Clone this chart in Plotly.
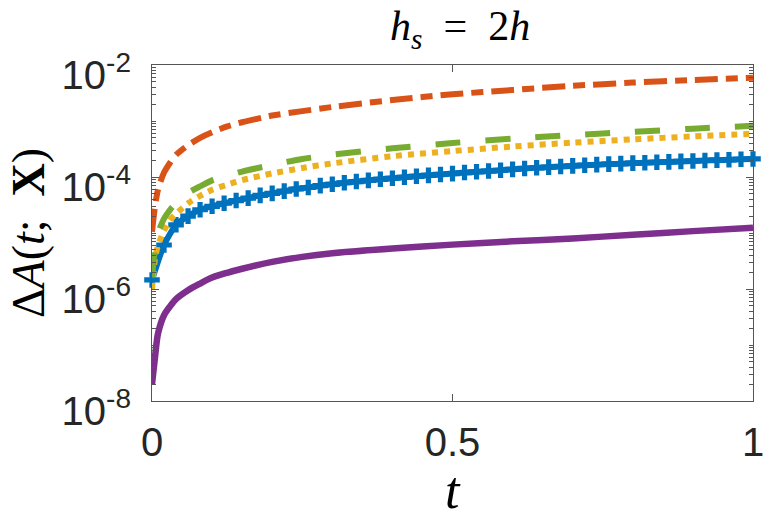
import plotly.graph_objects as go

# ---- data ----
t = [0, 0.005, 0.01, 0.02, 0.03, 0.04, 0.06, 0.08, 0.1, 0.125, 0.15, 0.2, 0.25,
     0.3, 0.4, 0.5, 0.6, 0.7, 0.8, 0.9, 1.0]

orange = [1.05e-5, 3.0e-5, 6.0e-5, 1.2e-4, 1.8e-4, 2.5e-4, 3.7e-4, 5.0e-4, 6.3e-4,
          8.0e-4, 9.5e-4, 1.25e-3, 1.5e-3, 1.78e-3, 2.37e-3, 3.0e-3, 3.58e-3,
          4.25e-3, 4.85e-3, 5.4e-3, 5.9e-3]

green = [1.6e-6, 5.5e-6, 1.0e-5, 1.8e-5, 2.6e-5, 3.4e-5, 5.2e-5, 6.8e-5, 8.7e-5,
         1.05e-4, 1.25e-4, 1.65e-4, 2.1e-4, 2.5e-4, 3.25e-4, 4.05e-4, 4.85e-4,
         5.6e-4, 6.4e-4, 7.3e-4, 8.2e-4]

yellow = [1.0e-6, 3.5e-6, 6.0e-6, 1.1e-5, 1.7e-5, 2.2e-5, 3.4e-5, 4.6e-5, 5.9e-5,
          7.3e-5, 8.8e-5, 1.16e-4, 1.45e-4, 1.75e-4, 2.35e-4, 2.9e-4, 3.5e-4,
          4.1e-4, 4.7e-4, 5.3e-4, 5.9e-4]

purple = [2.0e-8, 6.1e-8, 1.6e-7, 3.4e-7, 4.9e-7, 6.6e-7, 9.5e-7, 1.25e-6, 1.6e-6,
          1.95e-6, 2.3e-6, 3.05e-6, 3.75e-6, 4.35e-6, 5.3e-6, 6.2e-6, 7.1e-6,
          8.0e-6, 9.3e-6, 1.08e-5, 1.24e-5]

t_blue = [0.00, 0.02, 0.04, 0.06, 0.08, 0.10, 0.12, 0.14, 0.16, 0.18, 0.20, 0.22,
          0.24, 0.26, 0.28, 0.30, 0.32, 0.34, 0.36, 0.38, 0.40, 0.42, 0.44, 0.46,
          0.48, 0.50, 0.52, 0.54, 0.56, 0.58, 0.60, 0.62, 0.64, 0.66, 0.68, 0.70,
          0.72, 0.74, 0.76, 0.78, 0.80, 0.82, 0.84, 0.86, 0.88, 0.90, 0.92, 0.94,
          0.96, 0.98, 1.00]
blue = [1.45e-6, 6.1e-6, 1.4e-5, 2.0e-5, 2.6e-5, 3.0e-5, 3.4e-5, 3.8e-5, 4.2e-5,
        4.7e-5, 5.1e-5, 5.6e-5, 6.1e-5, 6.5e-5, 7.0e-5, 7.4e-5, 7.9e-5, 8.3e-5,
        8.7e-5, 9.1e-5, 9.5e-5, 9.9e-5, 1.03e-4, 1.07e-4, 1.11e-4, 1.15e-4,
        1.2e-4, 1.24e-4, 1.28e-4, 1.32e-4, 1.37e-4, 1.42e-4, 1.46e-4, 1.5e-4,
        1.54e-4, 1.58e-4, 1.62e-4, 1.66e-4, 1.7e-4, 1.73e-4, 1.77e-4, 1.8e-4,
        1.83e-4, 1.86e-4, 1.9e-4, 1.93e-4, 1.97e-4, 2.0e-4, 2.03e-4, 2.07e-4,
        2.1e-4]

x_ticks = [0, 0.5, 1]
x_ticktext = ["0", "0.5", "1"]
y_ticks = [1e-8, 1e-6, 1e-4, 1e-2]
y_ticktext = ["10<sup>-8</sup>", "10<sup>-6</sup>", "10<sup>-4</sup>", "10<sup>-2</sup>"]

title_text = "<i>h</i><sub><i>s</i></sub>  =  2<i>h</i>"
xlabel_text = "<i>t</i>"
ylabel_text = "Δ<i>A</i>(<i>t</i>;  <b>X</b>)"

C_BLUE = "#0072BD"
C_ORANGE = "#D95319"
C_YELLOW = "#EDB120"
C_PURPLE = "#7E2F8E"
C_GREEN = "#77AC30"

W, H = 767, 521
ML, MR, MT, MB = 152, 14, 65, 120
PW, PH = W - ML - MR, H - MT - MB

fig = go.Figure()
fig.add_trace(go.Scatter(x=t_blue, y=blue, mode="lines+markers",
                         line=dict(color=C_BLUE, width=6, shape="spline", smoothing=0.6),
                         marker=dict(symbol="cross", size=13, color=C_BLUE,
                                     line=dict(width=0)),
                         cliponaxis=False, showlegend=False))
fig.add_trace(go.Scatter(x=t, y=orange, mode="lines",
                         line=dict(color=C_ORANGE, width=6, dash="23px,8px,12px,8px",
                                   shape="spline", smoothing=0.6),
                         showlegend=False))
fig.add_trace(go.Scatter(x=t, y=yellow, mode="lines",
                         line=dict(color=C_YELLOW, width=6, dash="6px,6px",
                                   shape="spline", smoothing=0.6),
                         showlegend=False))
fig.add_trace(go.Scatter(x=t, y=purple, mode="lines",
                         line=dict(color=C_PURPLE, width=6.5, shape="spline", smoothing=0.8),
                         showlegend=False))
fig.add_trace(go.Scatter(x=t, y=green, mode="lines",
                         line=dict(color=C_GREEN, width=6, dash="25px,25px",
                                   shape="spline", smoothing=0.6),
                         showlegend=False))

AX = "#555555"
TXT = "#262626"
SERIF = "Liberation Serif, Times New Roman, serif"
fig.update_layout(
    width=W, height=H,
    margin=dict(l=ML, r=MR, t=MT, b=MB, autoexpand=False),
    paper_bgcolor="white", plot_bgcolor="white",
    font=dict(family="Liberation Sans, Arial, sans-serif", color=TXT, size=40),
    xaxis=dict(range=[0, 1], tickmode="array", tickvals=x_ticks, ticktext=x_ticktext,
               ticks="inside", ticklen=7, tickcolor=AX, tickwidth=1,
               showline=True, linecolor=AX, linewidth=1, mirror="ticks",
               showgrid=False, zeroline=False, ticklabelstandoff=6,
               automargin=False, tickfont=dict(size=40, color=TXT)),
    yaxis=dict(type="log", range=[-8, -2], tickmode="array", tickvals=y_ticks,
               ticktext=y_ticktext,
               ticks="inside", ticklen=7, tickcolor=AX, tickwidth=1,
               showline=True, linecolor=AX, linewidth=1, mirror="ticks",
               showgrid=False, zeroline=False, ticklabelstandoff=12,
               ticklabelshift=10, automargin=False,
               tickfont=dict(size=40, color=TXT),
               minor=dict(dtick="D1", ticks="inside", ticklen=4, tickcolor=AX,
                          showgrid=False)),
    annotations=[
        dict(text=title_text, xref="paper", yref="paper",
             x=0.5 + 7 / PW, y=1 + (MT - 29) / PH, xanchor="center", yanchor="middle",
             showarrow=False, font=dict(family=SERIF, size=42, color="black")),
        dict(text=xlabel_text, xref="paper", yref="paper",
             x=0.5, y=-(490 - (MT + PH)) / PH, xanchor="center", yanchor="middle",
             showarrow=False, font=dict(family=SERIF, size=52, color="black")),
        dict(text=ylabel_text, xref="paper", yref="paper", textangle=-90,
             x=-(ML - 28) / PW, y=0.5, xanchor="center", yanchor="middle",
             showarrow=False, font=dict(family=SERIF, size=46, color="black")),
    ],
)

fig.write_html("out.html")
